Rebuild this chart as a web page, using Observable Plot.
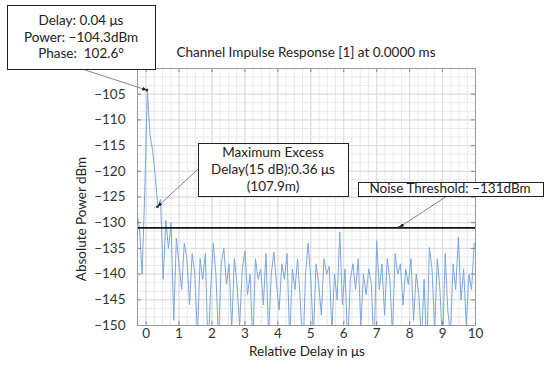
<!DOCTYPE html>
<html><head><meta charset="utf-8">
<script src="https://cdn.jsdelivr.net/npm/d3@7"></script>
<script src="https://cdn.jsdelivr.net/npm/@observablehq/plot@0.6"></script>
<style>
html,body{margin:0;padding:0;background:#fff;}
#chart{position:relative;width:550px;height:369px;overflow:hidden;}
svg text{font-family:Lato,"Noto Sans",sans-serif;}
</style></head><body><div id="chart"></div>
<script>
// ---- data ----
const delayUs = [-0.28,-0.2,-0.12,-0.04,0.04,0.12,0.2,0.28,0.36,0.44,0.52,0.6,0.68,0.76,0.84,0.92,1.0,1.08,1.16,1.24,1.32,1.4,1.48,1.56,1.64,1.72,1.8,1.88,1.96,2.04,2.12,2.2,2.28,2.36,2.44,2.52,2.6,2.68,2.76,2.84,2.92,3.0,3.08,3.16,3.24,3.32,3.4,3.48,3.56,3.64,3.72,3.8,3.88,3.96,4.04,4.12,4.2,4.28,4.36,4.44,4.52,4.6,4.68,4.76,4.84,4.92,5.0,5.08,5.16,5.24,5.32,5.4,5.48,5.56,5.64,5.72,5.8,5.88,5.96,6.04,6.12,6.2,6.28,6.36,6.44,6.52,6.6,6.68,6.76,6.84,6.92,7.0,7.08,7.16,7.24,7.32,7.4,7.48,7.56,7.64,7.72,7.8,7.88,7.96,8.04,8.12,8.2,8.28,8.36,8.44,8.52,8.6,8.68,8.76,8.84,8.92,9.0,9.08,9.16,9.24,9.32,9.4,9.48,9.56,9.64,9.72,9.8,9.88,9.96];
const powerDbm = [-128,-131,-140,-124,-104.3,-113,-116,-121,-127,-125.5,-141,-129.5,-135,-130,-149,-133,-138,-143,-134,-137,-146,-136,-140,-152,-137,-141,-136,-155,-143,-134,-140,-153,-138,-135,-142,-138,-151,-137,-142,-150,-139,-135.5,-144,-140,-154,-137,-141,-139,-146,-136,-152,-140,-135.7,-142,-147,-138,-141,-136,-153,-139,-143,-137,-145,-156,-140,-134,-141,-152,-138,-142,-148,-137,-140,-138.5,-151,-140,-145,-131.8,-146,-139,-154,-141,-138,-143,-137,-150,-140,-144,-139,-142,-155,-133.5,-143,-138,-148,-137,-141,-152,-136,-140,-138,-146,-139,-142,-137,-149,-140,-144,-153,-141,-156,-134.8,-139,-151,-137,-143,-154,-136,-147,-152,-138,-143,-132.8,-145,-139,-150,-140,-143,-134];
const xTicks = [0,1,2,3,4,5,6,7,8,9,10];
const yTicks = [-105,-110,-115,-120,-125,-130,-135,-140,-145,-150];
const noiseThreshold = -131;
const titleText = "Channel Impulse Response [1] at 0.0000 ms";
const xLabel = "Relative Delay in μs";
const yLabel = "Absolute Power dBm";
const peakLines = ["Delay: 0.04 μs", "Power: −104.3dBm", "Phase:  102.6°"];
const peakPoint = [0.04, -104.3];
const excessLines = ["Maximum Excess", "Delay(15 dB):0.36 μs", "(107.9m)"];
const excessPoint = [0.36, -127];
const noiseLabel = "Noise Threshold: −131dBm";
const noisePointDelay = 7.7;

// ---- chart ----
const xDomain = [-0.26, 10], yDomain = [-150, -100];
const xMinor = d3.range(0, 10.01, 0.25);
const yMinor = d3.range(-150, -99.9, 5/3);
const W = 550, H = 369, mL = 137, mR = 75, mT = 68, mB = 44;
const fw = W - mL - mR, fh = H - mT - mB;
const tickLen = 4;
const FONT = 'Lato,"Noto Sans",sans-serif';

const chart = Plot.plot({
  width: W, height: H,
  marginLeft: mL, marginRight: mR, marginTop: mT, marginBottom: mB,
  style: {fontSize: "13.5px", fontFamily: FONT, color: "#333", background: "#fff"},
  x: {domain: xDomain},
  y: {domain: yDomain},
  marks: [
    Plot.ruleX(xMinor, {stroke: "#e9e9e9", strokeWidth: 1}),
    Plot.ruleY(yMinor, {stroke: "#e9e9e9", strokeWidth: 1}),
    Plot.ruleX(xTicks, {stroke: "#dcdcdc", strokeWidth: 1}),
    Plot.ruleY(yTicks, {stroke: "#dcdcdc", strokeWidth: 1}),
    Plot.line(delayUs.map((d, i) => ({d, p: powerDbm[i]})), {x: "d", y: "p", stroke: "#7aa6df", strokeWidth: 1, clip: true}),
    Plot.ruleY([noiseThreshold], {stroke: "#111", strokeWidth: 1.6}),
    Plot.ruleX(xTicks, {stroke: "#888", insetTop: fh - tickLen}),
    Plot.ruleX(xTicks, {stroke: "#888", insetBottom: fh - tickLen}),
    Plot.ruleY(yTicks, {stroke: "#888", insetRight: fw - tickLen}),
    Plot.ruleY(yTicks, {stroke: "#888", insetLeft: fw - tickLen}),
    Plot.frame({stroke: "#999"}),
    Plot.axisX({ticks: xTicks, tickSize: 0, tickPadding: 3, label: null, fill: "#333"}),
    Plot.axisY({ticks: yTicks, tickSize: 0, tickPadding: 12, label: null, fill: "#333"})
  ]
});
document.getElementById("chart").appendChild(chart);

// ---- annotations ----
const sx = chart.scale("x"), sy = chart.scale("y");
const svg = d3.select(chart);
const defs = svg.append("defs");
defs.append("marker").attr("id", "ah").attr("viewBox", "0 0 10 10").attr("refX", 10).attr("refY", 5)
  .attr("markerWidth", 6).attr("markerHeight", 6).attr("orient", "auto-start-reverse")
  .append("path").attr("d", "M0,1 L10,5 L0,9 z").attr("fill", "#222");
const g = svg.append("g").attr("font-size", 13.5).attr("fill", "#222").attr("font-family", FONT);

g.append("text").attr("x", mL + fw / 2).attr("y", 54).attr("text-anchor", "middle").attr("dominant-baseline", "middle").text(titleText);
g.append("text").attr("x", 307).attr("y", 353).attr("text-anchor", "middle").attr("dominant-baseline", "middle").text(xLabel);
g.append("text").attr("transform", "translate(83,219) rotate(-90)").attr("text-anchor", "middle").attr("dominant-baseline", "middle").text(yLabel);

function box(x0, y0, x1, y1, lines, cx, ys) {
  g.append("rect").attr("x", x0 + 0.5).attr("y", y0 + 0.5).attr("width", x1 - x0).attr("height", y1 - y0)
    .attr("fill", "#fff").attr("stroke", "#222").attr("stroke-width", 1);
  lines.forEach((t, i) => g.append("text").attr("x", cx).attr("y", ys[i]).attr("text-anchor", "middle")
    .attr("dominant-baseline", "middle").style("white-space", "pre").text(t));
}
function arrow(x0, y0, x1, y1) {
  g.append("line").attr("x1", x0).attr("y1", y0).attr("x2", x1).attr("y2", y1)
    .attr("stroke", "#666").attr("stroke-width", 0.8).attr("marker-end", "url(#ah)");
  g.append("circle").attr("cx", x1).attr("cy", y1).attr("r", 1.4).attr("fill", "#333");
}

arrow(85, 70, sx.apply(peakPoint[0]), sy.apply(peakPoint[1]));
box(7, 5, 155, 69, peakLines, 81, [22, 39, 55]);

arrow(198, 169, sx.apply(excessPoint[0]), sy.apply(excessPoint[1]));
box(198, 143, 348, 196, excessLines, 273, [154, 171, 188]);

arrow(447, 196, sx.apply(noisePointDelay), sy.apply(noiseThreshold));
box(358, 182, 543, 196, [noiseLabel], 450, [189.5]);
</script></body></html>
